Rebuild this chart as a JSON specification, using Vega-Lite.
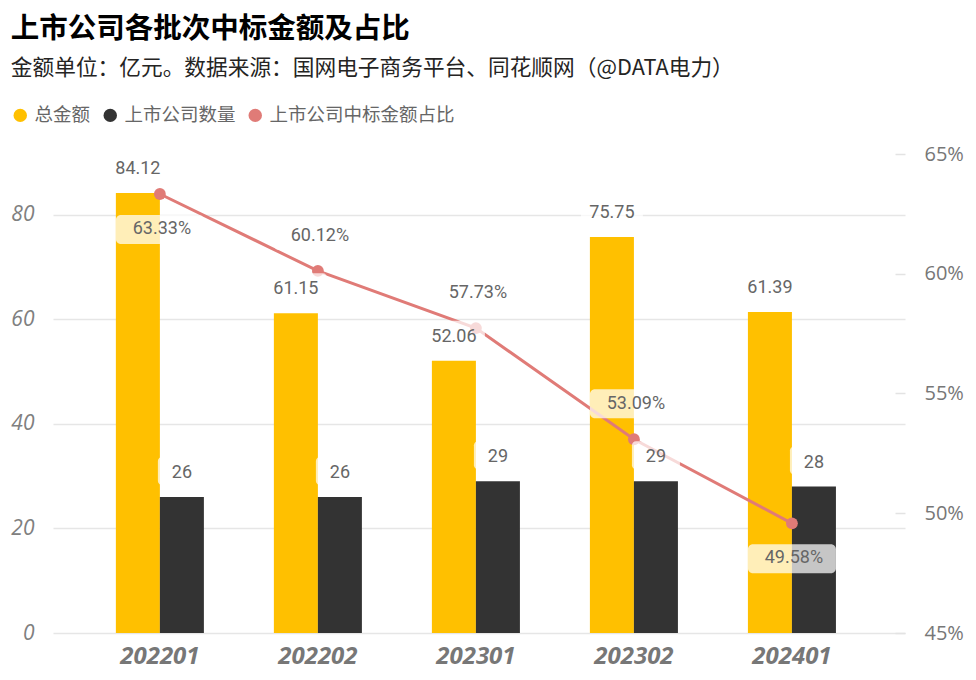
{
  "$schema": "https://vega.github.io/schema/vega-lite/v6.json",
  "width": 852,
  "height": 479,
  "padding": {"left": 10, "top": 14, "right": 0, "bottom": 6},
  "background": "white",
  "config": {
    "view": {"stroke": null},
    "font": "Noto Sans CJK SC"
  },
  "title": {
    "text": "上市公司各批次中标金额及占比",
    "subtitle": "金额单位：亿元。数据来源：国网电子商务平台、同花顺网（@DATA电力）",
    "anchor": "start",
    "frame": "bounds",
    "font": "Noto Sans CJK SC",
    "fontSize": 28.5,
    "fontWeight": "bold",
    "color": "#000000",
    "subtitleFont": "Noto Sans CJK SC",
    "subtitleFontSize": 21.7,
    "subtitleColor": "#252423",
    "subtitlePadding": 15,
    "offset": 26
  },
  "datasets": {
    "bars": [
      {"batch": "202201", "series": "总金额", "value": 84.12},
      {"batch": "202201", "series": "上市公司数量", "value": 26},
      {"batch": "202202", "series": "总金额", "value": 61.15},
      {"batch": "202202", "series": "上市公司数量", "value": 26},
      {"batch": "202301", "series": "总金额", "value": 52.06},
      {"batch": "202301", "series": "上市公司数量", "value": 29},
      {"batch": "202302", "series": "总金额", "value": 75.75},
      {"batch": "202302", "series": "上市公司数量", "value": 29},
      {"batch": "202401", "series": "总金额", "value": 61.39},
      {"batch": "202401", "series": "上市公司数量", "value": 28}
    ],
    "ratio": [
      {"batch": "202201", "series": "上市公司中标金额占比", "value": 0.6333},
      {"batch": "202202", "series": "上市公司中标金额占比", "value": 0.6012},
      {"batch": "202301", "series": "上市公司中标金额占比", "value": 0.5773},
      {"batch": "202302", "series": "上市公司中标金额占比", "value": 0.5309},
      {"batch": "202401", "series": "上市公司中标金额占比", "value": 0.4958}
    ]
  },
  "encoding": {
    "x": {
      "field": "batch",
      "type": "nominal",
      "scale": {"paddingInner": 0, "paddingOuter": 0.196, "align": 0.45},
      "axis": {
        "title": null,
        "labelAngle": 0,
        "ticks": false,
        "domain": false,
        "labelPadding": 11,
        "labelFont": "Open Sans",
        "labelFontSize": 24,
        "labelFontWeight": "bold",
        "labelFontStyle": "italic",
        "labelColor": "#777777"
      }
    }
  },
  "layer": [
    {
      "data": {"name": "bars"},
      "mark": {"type": "bar"},
      "encoding": {
        "xOffset": {
          "field": "series",
          "type": "nominal",
          "sort": ["总金额", "上市公司数量"],
          "scale": {"paddingInner": 0, "paddingOuter": 0.795}
        },
        "y": {
          "field": "value",
          "type": "quantitative",
          "scale": {"domain": [0, 91.6], "nice": false},
          "axis": {
            "title": null,
            "orient": "left",
            "values": [0, 20, 40, 60, 80],
            "grid": true,
            "gridColor": "#e6e6e6",
            "gridWidth": 1.5,
            "domain": false,
            "ticks": false,
            "labelPadding": 19,
            "labelFont": "Open Sans",
            "labelFontSize": 21,
            "labelFontStyle": "italic",
            "labelColor": "#808080"
          }
        },
        "color": {
          "field": "series",
          "type": "nominal",
          "scale": {
            "domain": ["总金额", "上市公司数量", "上市公司中标金额占比"],
            "range": ["#FFC000", "#333333", "#E07B77"]
          },
          "legend": {
            "title": null,
            "orient": "none",
            "direction": "horizontal",
            "legendX": -42,
            "legendY": -48,
            "symbolType": "circle",
            "symbolSize": 180,
            "symbolStrokeWidth": 0,
            "labelFont": "Noto Sans CJK SC",
            "labelFontSize": 18.5,
            "labelColor": "#666666",
            "labelOffset": 5,
            "labelLimit": 300,
            "columnPadding": 10
          }
        }
      }
    },
    {
      "data": {"name": "ratio"},
      "mark": {"type": "line", "color": "#E07B77", "strokeWidth": 3},
      "encoding": {
        "y": {
          "field": "value",
          "type": "quantitative",
          "scale": {"domain": [0.45, 0.65], "nice": false},
          "axis": {
            "title": null,
            "orient": "right",
            "offset": -10,
            "values": [0.45, 0.5, 0.55, 0.6, 0.65],
            "format": ".0%",
            "grid": false,
            "domain": false,
            "ticks": true,
            "tickSize": 10,
            "tickColor": "#e3e3e3",
            "tickWidth": 1.5,
            "labelPadding": 19,
            "labelFont": "Open Sans",
            "labelFontSize": 20,
            "labelColor": "#777777"
          }
        }
      }
    },
    {
      "data": {"name": "ratio"},
      "mark": {"type": "point", "filled": true, "size": 140, "color": "#E07B77", "opacity": 1},
      "encoding": {
        "y": {"field": "value", "type": "quantitative", "scale": {"domain": [0.45, 0.65], "nice": false}, "axis": null}
      }
    },
    {
      "data": {"name": "bars"},
      "mark": {"type": "point", "filled": true, "size": 4, "color": "#ffffff", "opacity": 0.72, "strokeWidth": 0},
      "encoding": {
        "xOffset": {
          "field": "series",
          "type": "nominal",
          "sort": ["总金额", "上市公司数量"],
          "scale": {"paddingInner": 0, "paddingOuter": 0.795}
        },
        "y": {"field": "value", "type": "quantitative", "scale": {"domain": [0, 91.6], "nice": false}, "axis": null},
        "shape": {
          "condition": {
            "test": "datum.series === '总金额'",
            "value": "M-27,-40H27A4,4 0 0 1 31,-36V-16A4,4 0 0 1 27,-12H-27A4,4 0 0 1 -31,-16V-36A4,4 0 0 1 -27,-40Z"
          },
          "value": "M-20,-40H20A4,4 0 0 1 24,-36V-16A4,4 0 0 1 20,-12H-20A4,4 0 0 1 -24,-16V-36A4,4 0 0 1 -20,-40Z"
        }
      }
    },
    {
      "data": {"name": "ratio"},
      "transform": [{"filter": {"field": "batch", "oneOf": ["202201", "202401"]}}],
      "mark": {
        "type": "point", "filled": true, "size": 4, "color": "#ffffff", "opacity": 0.72, "strokeWidth": 0,
        "shape": "M-39,21H39A5,5 0 0 1 44,26V45A5,5 0 0 1 39,50H-39A5,5 0 0 1 -44,45V26A5,5 0 0 1 -39,21Z"
      },
      "encoding": {
        "y": {"field": "value", "type": "quantitative", "scale": {"domain": [0.45, 0.65], "nice": false}, "axis": null}
      }
    },
    {
      "data": {"name": "ratio"},
      "transform": [{"filter": {"field": "batch", "oneOf": ["202202", "202301", "202302"]}}],
      "mark": {
        "type": "point", "filled": true, "size": 4, "color": "#ffffff", "opacity": 0.72, "strokeWidth": 0,
        "shape": "M-39,-50H39A5,5 0 0 1 44,-45V-26A5,5 0 0 1 39,-21H-39A5,5 0 0 1 -44,-26V-45A5,5 0 0 1 -39,-50Z"
      },
      "encoding": {
        "y": {"field": "value", "type": "quantitative", "scale": {"domain": [0.45, 0.65], "nice": false}, "axis": null}
      }
    },
    {
      "data": {"name": "bars"},
      "mark": {"type": "text", "dy": -24, "font": "Roboto", "fontSize": 18, "color": "#666666"},
      "encoding": {
        "xOffset": {
          "field": "series",
          "type": "nominal",
          "sort": ["总金额", "上市公司数量"],
          "scale": {"paddingInner": 0, "paddingOuter": 0.795}
        },
        "y": {"field": "value", "type": "quantitative", "scale": {"domain": [0, 91.6], "nice": false}, "axis": null},
        "text": {"field": "value", "type": "nominal"}
      }
    },
    {
      "data": {"name": "ratio"},
      "transform": [{"filter": {"field": "batch", "oneOf": ["202201", "202401"]}}],
      "mark": {"type": "text", "dy": 35, "dx": 2, "font": "Roboto", "fontSize": 18, "color": "#666666"},
      "encoding": {
        "y": {"field": "value", "type": "quantitative", "scale": {"domain": [0.45, 0.65], "nice": false}, "axis": null},
        "text": {"field": "value", "type": "quantitative", "format": ".2%"}
      }
    },
    {
      "data": {"name": "ratio"},
      "transform": [{"filter": {"field": "batch", "oneOf": ["202202", "202301", "202302"]}}],
      "mark": {"type": "text", "dy": -35, "dx": 2, "font": "Roboto", "fontSize": 18, "color": "#666666"},
      "encoding": {
        "y": {"field": "value", "type": "quantitative", "scale": {"domain": [0.45, 0.65], "nice": false}, "axis": null},
        "text": {"field": "value", "type": "quantitative", "format": ".2%"}
      }
    }
  ],
  "resolve": {"scale": {"y": "independent"}}
}
